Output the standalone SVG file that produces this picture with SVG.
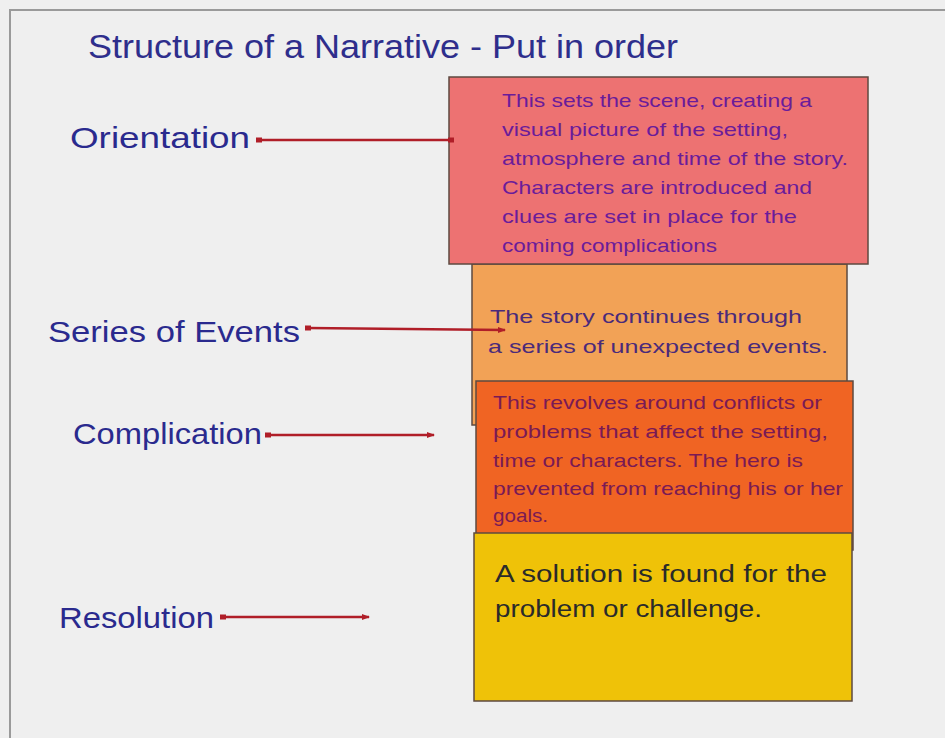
<svg xmlns="http://www.w3.org/2000/svg" width="945" height="738" viewBox="0 0 945 738">
<style>
  .bg{fill:#efefef}
  .frame{stroke:#9a9a9a;stroke-width:2;fill:none}
  .title{font-family:"Comic Sans MS","Liberation Sans",sans-serif;font-size:33px;fill:#2e2e8c}
  .lbl{font-family:"Comic Sans MS","Liberation Sans",sans-serif;font-size:29px;fill:#2a2a8e}
  .box{stroke:#5e4a40;stroke-width:1.5}
  .t1{font-family:"Comic Sans MS","Liberation Sans",sans-serif;font-size:19px;fill:#6a1c9a}
  .t2{font-family:"Comic Sans MS","Liberation Sans",sans-serif;font-size:19px;fill:#4a2a7a}
  .t3{font-family:"Comic Sans MS","Liberation Sans",sans-serif;font-size:19px;fill:#7a1a55}
  .t4{font-family:"Comic Sans MS","Liberation Sans",sans-serif;font-size:23px;fill:#2a2a2a}
  .conn{stroke:#b01e28;stroke-width:2.5;fill:none}
</style>
<defs>
  <marker id="dot" markerWidth="6" markerHeight="6" refX="3" refY="3" markerUnits="userSpaceOnUse">
    <rect x="0" y="0.5" width="6" height="5" fill="#b01e28"/>
  </marker>
  <marker id="arr" markerWidth="8" markerHeight="8" refX="7" refY="4" markerUnits="userSpaceOnUse" orient="auto">
    <path d="M0,1 L8,4 L0,7 Z" fill="#b01e28"/>
  </marker>
</defs>
<rect class="bg" x="0" y="0" width="945" height="738"/>
<path class="frame" d="M10,738 V10 H945"/>
<text class="title" x="88" y="58" textLength="590" lengthAdjust="spacingAndGlyphs">Structure of a Narrative - Put in order</text>

<g id="series-box">
  <rect class="box" x="472" y="264" width="375" height="161" fill="#f2a256"/>
  <text class="t2" x="490" y="323" textLength="312" lengthAdjust="spacingAndGlyphs">The story continues through</text>
  <text class="t2" x="488" y="353" textLength="340" lengthAdjust="spacingAndGlyphs">a series of unexpected events.</text>
</g>
<g id="orientation-box">
  <rect class="box" x="449" y="77" width="419" height="187" fill="#ed7272"/>
  <text class="t1" x="502" y="107" textLength="310" lengthAdjust="spacingAndGlyphs">This sets the scene, creating a</text>
  <text class="t1" x="502" y="136" textLength="286" lengthAdjust="spacingAndGlyphs">visual picture of the setting,</text>
  <text class="t1" x="502" y="165" textLength="346" lengthAdjust="spacingAndGlyphs">atmosphere and time of the story.</text>
  <text class="t1" x="502" y="194" textLength="310" lengthAdjust="spacingAndGlyphs">Characters are introduced and</text>
  <text class="t1" x="502" y="223" textLength="295" lengthAdjust="spacingAndGlyphs">clues are set in place for the</text>
  <text class="t1" x="502" y="252" textLength="215" lengthAdjust="spacingAndGlyphs">coming complications</text>
</g>
<g id="complication-box">
  <rect class="box" x="476" y="381" width="377" height="169" fill="#f06423"/>
  <text class="t3" x="493" y="409" textLength="329" lengthAdjust="spacingAndGlyphs">This revolves around conflicts or</text>
  <text class="t3" x="493" y="438" textLength="335" lengthAdjust="spacingAndGlyphs">problems that affect the setting,</text>
  <text class="t3" x="493" y="467" textLength="310" lengthAdjust="spacingAndGlyphs">time or characters. The hero is</text>
  <text class="t3" x="493" y="495" textLength="350" lengthAdjust="spacingAndGlyphs">prevented from reaching his or her</text>
  <text class="t3" x="493" y="522" textLength="55" lengthAdjust="spacingAndGlyphs">goals.</text>
</g>
<g id="resolution-box">
  <rect class="box" x="474" y="533" width="378" height="168" fill="#efc208"/>
  <text class="t4" x="495" y="582" textLength="332" lengthAdjust="spacingAndGlyphs">A solution is found for the</text>
  <text class="t4" x="495" y="617" textLength="267" lengthAdjust="spacingAndGlyphs">problem or challenge.</text>
</g>

<g id="orientation-label"><text class="lbl" x="70" y="148" textLength="180" lengthAdjust="spacingAndGlyphs">Orientation</text></g>
<g id="series-label"><text class="lbl" x="48" y="342" textLength="252" lengthAdjust="spacingAndGlyphs">Series of Events</text></g>
<g id="complication-label"><text class="lbl" x="73" y="444" textLength="189" lengthAdjust="spacingAndGlyphs">Complication</text></g>
<g id="resolution-label"><text class="lbl" x="59" y="628" textLength="155" lengthAdjust="spacingAndGlyphs">Resolution</text></g>

<g id="connectors">
  <path class="conn" d="M259,140 H451" marker-start="url(#dot)" marker-end="url(#dot)"/>
  <path class="conn" d="M308,328 L505,330" marker-start="url(#dot)" marker-end="url(#arr)"/>
  <path class="conn" d="M268,435 H434" marker-start="url(#dot)" marker-end="url(#arr)"/>
  <path class="conn" d="M223,617 H369" marker-start="url(#dot)" marker-end="url(#arr)"/>
</g>
</svg>
